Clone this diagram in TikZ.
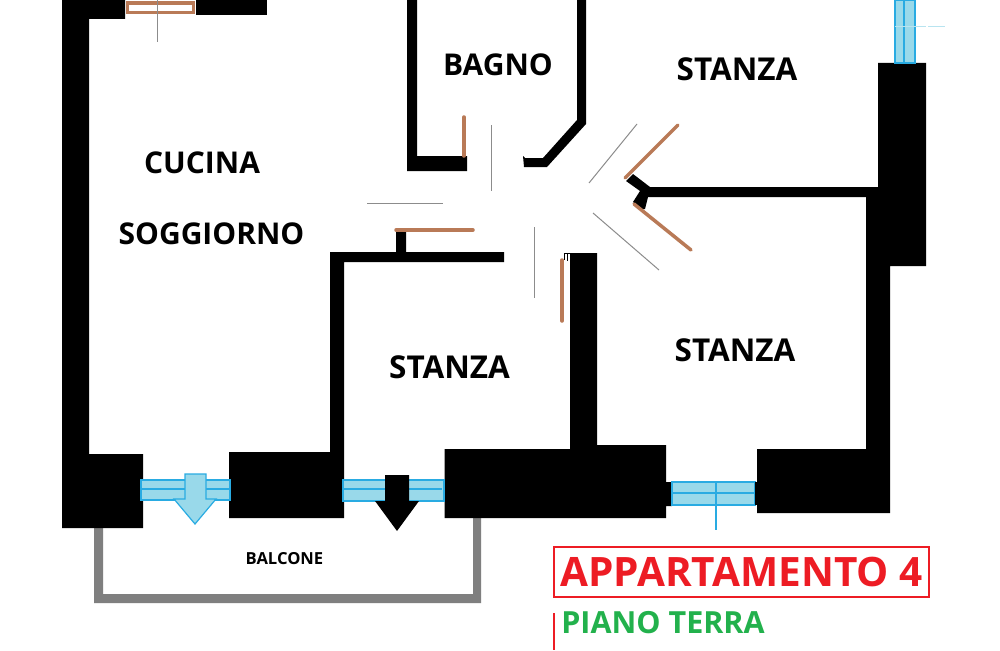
\documentclass[tikz,border=0pt]{standalone}
\usepackage{fontspec}
\setmainfont{Open Sans}[BoldFont={Open Sans Bold}]
\definecolor{brownd}{HTML}{B97A57}
\definecolor{glass}{HTML}{99D9EA}
\definecolor{glassb}{HTML}{29ABE2}
\definecolor{redt}{HTML}{ED1C24}
\definecolor{greent}{HTML}{22B14C}
\definecolor{balc}{HTML}{7F7F7F}
\tikzset{
  wall/.style={fill=black,draw=none},
  door/.style={draw=brownd,line width=3.5pt,line cap=round},
  swing/.style={draw=black!45,line width=1pt},
  pane/.style={fill=glass,draw=glassb,line width=1.2pt},
  paneline/.style={draw=glassb,line width=1.2pt},
  room/.style={font=\bfseries\fontsize{30}{36}\selectfont,text=black,inner sep=0pt,anchor=center},
  roomwide/.style={room,font=\bfseries\fontsize{31.5}{36}\selectfont},
}
\begin{document}
\begin{tikzpicture}[x=1pt,y=-1pt]
\useasboundingbox (0,0) rectangle (1000,650);
\fill[white] (0,0) rectangle (1000,650);
% balcony rail
\fill[balc] (94,528) -- (103,528) -- (103,594) -- (473,594) -- (473,518) -- (481,518) -- (481,603) -- (94,603) -- cycle;
% left wall, top
\fill[wall] (62,0) -- (125,0) -- (125,19) -- (89,19) -- (89,454) -- (143,454) -- (143,528) -- (62,528) -- cycle;
\fill[wall] (196,0) rectangle (267,15);
% kitchen window
\draw[draw=brownd,line width=3.5pt,fill=white] (127.5,3) rectangle (193.5,12.5);
\draw[swing] (157,0) -- (157,42);
% middle block and walls
\fill[wall] (229,452) -- (330,452) -- (330,252) -- (396,252) -- (396,232) -- (406,232) -- (406,252) -- (504,252) -- (504,262) -- (344,262) -- (344,518) -- (229,518) -- cycle;
\draw[door] (396,230) -- (473,230);
\draw[swing] (367,203) -- (443,203);
% lower middle block
\fill[wall] (444.5,449) -- (570,449) -- (570,253) -- (597,253) -- (597,445) -- (666,445) -- (666,482) -- (672,482) -- (672,506) -- (666,506) -- (666,518) -- (444.5,518) -- cycle;
\draw[black,line width=0.8pt] (564,260) -- (564,253.5) -- (570,253.5) (567,254) -- (567,261);
\draw[door] (562,260) -- (562,321);
\draw[swing] (534,227) -- (534,298);
% lower right block and right wall
\fill[wall] (757,449) -- (866,449) -- (866,197) -- (648,197) -- (645,209) -- (641,209) -- (633,202) -- (640,191) -- (626,181) -- (633,174) -- (650,187) -- (878,187) -- (878,63) -- (926,63) -- (926,266) -- (890,266) -- (890,513) -- (757,513) -- cycle;
\draw[door] (625,178) -- (678,125);
\draw[door] (634,204) -- (691,250);
\draw[swing] (589,183) -- (637,124);
\draw[swing] (593,213) -- (659,270);
% bath walls
\fill[wall] (407,0) -- (417,0) -- (417,156) -- (467,156) -- (467,171) -- (407,171) -- cycle;
\draw[door] (464,117) -- (464,156);
\draw[swing] (491.5,125) -- (491.5,191);
\fill[wall] (577,0) -- (586,0) -- (586,124) -- (547,167) -- (524,167) -- (523,156) -- (525,158) -- (543,158) -- (577,120) -- cycle;
% windows
\draw[pane] (141,480) rectangle (230,500);
\draw[paneline] (141,489) -- (230,489);
\draw[pane] (185,474) -- (206,474) -- (206,499) -- (216,499) -- (195,524) -- (174,499) -- (185,499) -- cycle;
\draw[pane] (343,480) rectangle (444,501);
\draw[paneline] (343,489) -- (442,489);
\fill[wall] (385,475) -- (409,475) -- (409,501) -- (419,501) -- (397,531) -- (375,501) -- (385,501) -- cycle;
\draw[pane] (672,482) rectangle (755,505);
\draw[paneline] (672,493) -- (755,493);
\draw[paneline] (716,482) -- (716,530);
\fill[wall] (755,482) rectangle (757,505);
\draw[pane] (895,0) rectangle (915,63);
\draw[paneline] (904,0) -- (904,63);
\draw[draw=glass!70,line width=1pt] (895,27) -- (926,27) (928,27) -- (945,27);
% labels
\node[room] (bagno) at (498,65) {BAGNO};
\node[roomwide] (stanzaa) at (737,69) {STANZA};
\node[room] (cucina) at (202,163) {CUCINA};
\node[room] (soggiorno) at (211.5,234) {SOGGIORNO};
\node[roomwide] (stanzab) at (449.5,367) {STANZA};
\node[roomwide] (stanzac) at (735,350) {STANZA};
\node[font=\bfseries\fontsize{16.6}{20}\selectfont,inner sep=0pt] (balcone) at (284.5,559) {BALCONE};
\node[draw=redt,line width=1.2pt,minimum width=375pt,minimum height=50pt,inner sep=0pt,text=redt,font=\bfseries\fontsize{40.5}{50}\selectfont] (title) at (741.5,572) {APPARTAMENTO 4};
\node[text=greent,font=\bfseries\fontsize{30.5}{36}\selectfont,inner sep=0pt] (piano) at (663,623) {PIANO TERRA};
\coordinate (ra) at (554,613);
\coordinate (rb) at (554,650);
\draw[redt,line width=1.6pt] (ra) -- (rb);
\end{tikzpicture}
\end{document}
